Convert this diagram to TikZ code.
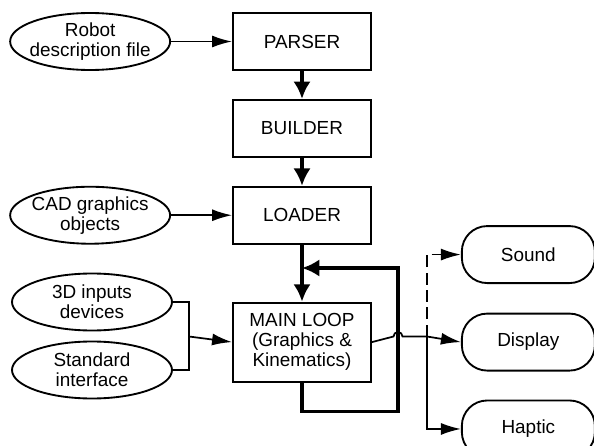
\documentclass[tikz,border=0pt]{standalone}
\usepackage{fontspec}
\setmainfont{Liberation Sans}
\usepackage{tikz}
\usetikzlibrary{shapes.geometric, arrows.meta}
\usetikzlibrary{positioning}
\tikzstyle{boxNode} = [rectangle, minimum width=103.5pt, minimum height=42.75pt, inner sep=0pt, text centered, draw=black, line width=1.4pt]
\tikzstyle{ellipseNode} = [ellipse, minimum width=120pt, minimum height=42.75pt, inner xsep=-15pt, inner ysep=-4pt, align=center, draw=black, line width=1.4pt]
\tikzstyle{outNode} = [rectangle, rounded corners=19pt, minimum width=99.75pt, minimum height=42.75pt, inner sep=0pt, text centered, draw=black, line width=1.4pt]
\tikzstyle{arrow} = [line width=1.3pt, -{Latex[length=15pt,width=9pt]}]
\tikzstyle{thickArrow} = [line width=2.6pt, -{Latex[length=13pt,width=13pt]}]

\begin{document}
\begin{tikzpicture}[x=0.75pt, y=-0.75pt, font=\fontsize{14.2}{15}\selectfont]
                                \useasboundingbox (0,0) rectangle (594,446);
                                % main column
                                \node (parser) [boxNode] at (302,41.5) {PARSER};
                                \node (builder) [boxNode, below=21pt of parser] {BUILDER};
                                \node (loader) [boxNode, below=21pt of builder] {LOADER};
                                \node (mainloop) [boxNode, minimum height=59.25pt, align=center, below=42.75pt of loader] {MAIN LOOP\\(Graphics \&\\Kinematics)};
                                % inputs
                                \node (robot) [ellipseNode, left=45.75pt of parser] {Robot\\description file};
                                \node (cad) [ellipseNode, left=45.75pt of loader] {CAD graphics\\objects};
                                \node (devices) [ellipseNode] at (92,302) {3D inputs\\devices};
                                \node (standard) [ellipseNode] at (92,370) {Standard\\interface};
                                % outputs
                                \node (display) [outNode, right=66.75pt of mainloop] {Display};
                                \node (sound) [outNode, above=21.5pt of display] {Sound};
                                \node (haptic) [outNode, below=21pt of display] {Haptic};
                                \coordinate (join) at (189,336.5);
                                \coordinate (loopcorner) at (398,268);
                                \coordinate (branch) at (427,336.5);
                                \draw [arrow] (robot) -- (parser);
                                \draw [arrow] (cad) -- (loader);
                                \draw [thickArrow] (parser) -- (builder);
                                \draw [thickArrow] (builder) -- (loader);
                                \draw [thickArrow] (loader) -- (mainloop);
                                \draw [line width=1.3pt] (devices.east) -| (join) |- (standard.east);
                                \draw [arrow] (join) -- (mainloop.west);
                                \draw [thickArrow] (mainloop.south) -- ++(0,29) -| (loopcorner) -- (loopcorner -| mainloop.north);
                                \draw [line width=1.3pt] (mainloop.east) -- (393.5,336.5) arc (180:360:4.5) -- (branch);
                                \draw [arrow] (branch) -- (display.west);
                                \draw [arrow, dashed, dash pattern=on 9pt off 4pt] (branch) |- (sound.west);
                                \draw [arrow] (branch) |- (haptic.west);
                            \end{tikzpicture}
\end{document}
